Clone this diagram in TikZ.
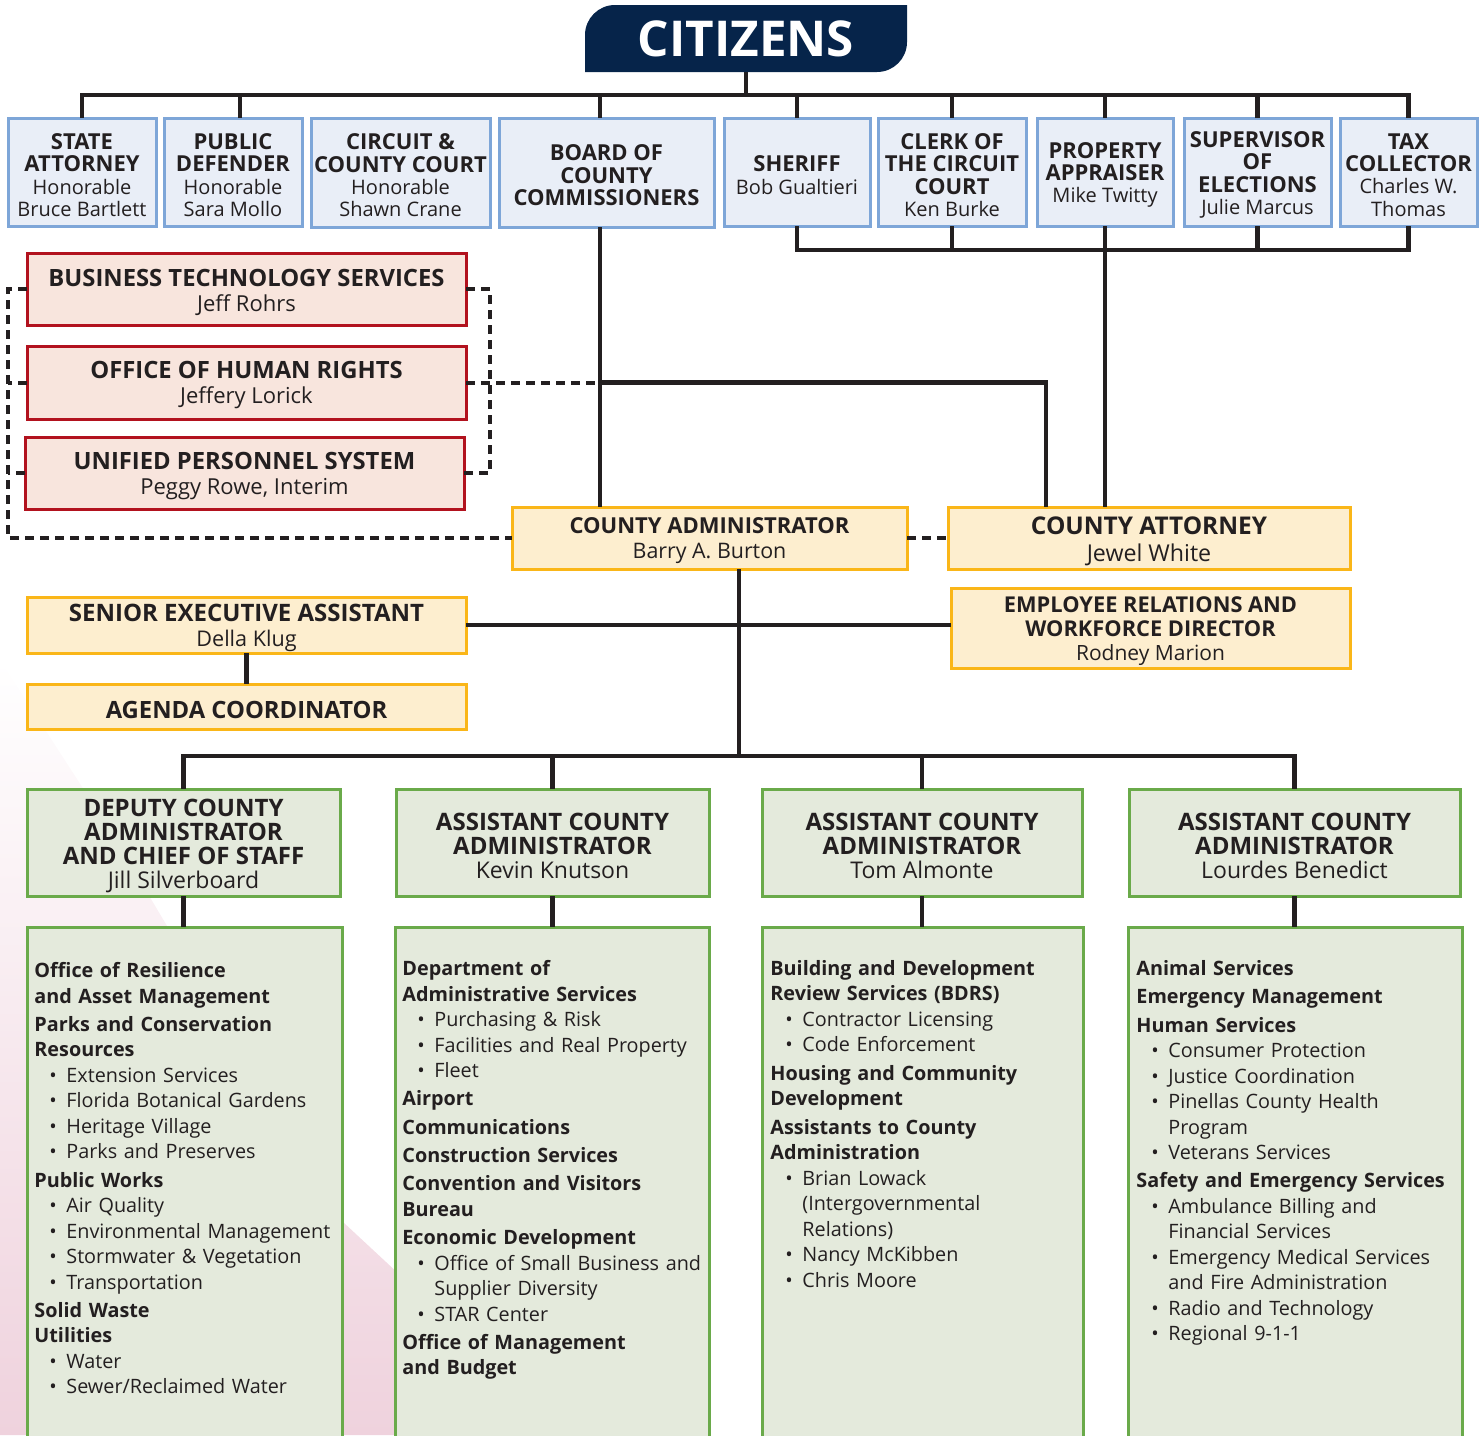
\documentclass[tikz,border=0pt]{standalone}
\usepackage{fontspec}
\setmainfont{Open Sans}
\definecolor{navy}{RGB}{6,36,74}
\definecolor{txt}{RGB}{35,31,32}
\definecolor{bfill}{RGB}{233,238,247}
\definecolor{bdraw}{RGB}{126,166,216}
\definecolor{rfill}{RGB}{248,229,221}
\definecolor{rdraw}{RGB}{178,18,30}
\definecolor{yfill}{RGB}{253,238,207}
\definecolor{ydraw}{RGB}{250,182,24}
\definecolor{gfill}{RGB}{228,234,220}
\definecolor{gdraw}{RGB}{106,170,74}
\definecolor{pinkbg}{RGB}{239,210,221}
\newcommand\mybox[7]{%
  \pgfmathsetmacro\bxw{(#5-#3)*0.5}%
  \pgfmathsetmacro\bxh{(#6-#4)*0.5}%
  \node[#2,minimum width=\bxw pt,minimum height=\bxh pt] (#1) at ({(#3+#5)/2},{(#4+#6)/2}) {};
  \node[#2,draw=none,fill=none,yshift=-1.5pt] (#1-t) at (#1.center) {#7};}
\newcommand\nm[2]{{\mdseries\fontsize{#1}{#1}\selectfont #2}}
\newcommand\hdf[1]{\noindent\textbf{#1}}
\newcommand\hdg[1]{\par\vspace{1.4pt}\noindent\textbf{#1}}
\newcommand\hdn[1]{\par\noindent\textbf{#1}}
\newcommand\bul[1]{\par\hangindent=16pt\hangafter=1\noindent\hspace*{7.5pt}\makebox[8.5pt][l]{\textbullet}#1}
\tikzset{
  box/.style={draw,line width=1.5pt,inner sep=0pt,outer sep=0pt,align=center,text=txt},
  blu/.style={box,fill=bfill,draw=bdraw,font=\fontsize{11}{11.2}\selectfont\bfseries},
  red/.style={box,fill=rfill,draw=rdraw,font=\fontsize{11.9}{12.5}\selectfont\bfseries},
  yel/.style={box,fill=yfill,draw=ydraw},
  grn/.style={box,fill=gfill,draw=gdraw,font=\fontsize{12}{12}\selectfont\bfseries},
  lst/.style={inner sep=0pt,anchor=north west,text width=175pt,text=txt,font=\fontsize{9.9}{12.75}\selectfont},
  conn/.style={draw=txt,line width=2.35pt},
  dsh/.style={draw=txt,line width=2pt,dash pattern=on 4.5pt off 3pt}
}
\begin{document}
\begin{tikzpicture}[x=0.5pt,y=-0.5pt]
\useasboundingbox (0,0) rectangle (1481,1435);
% pink background wedge
\shade[top color=white, bottom color=pinkbg] (0,660) -- (110,830) -- (343,1222) -- (400,1275) -- (400,1435) -- (0,1435) -- cycle;
% citizens
\fill[navy] (585,72) -- (585,35) arc[start angle=180,end angle=270,radius=30] -- (907,5) -- (907,42) arc[start angle=0,end angle=90,radius=30] -- cycle;
\node[inner sep=0pt,minimum width=161pt,minimum height=33.5pt,text=white,font=\fontsize{24.7}{25}\selectfont\bfseries] (cit) at (746,38.5) {CITIZENS};
% top row
\mybox{sa}{blu}{8}{118}{156}{226}{STATE\\ATTORNEY\\\nm{10}{Honorable}\\\nm{10}{Bruce Bartlett}}
\mybox{pd}{blu}{164}{118}{302}{226}{PUBLIC\\DEFENDER\\\nm{10}{Honorable}\\\nm{10}{Sara Mollo}}
\mybox{cc}{blu}{311}{118}{490}{227}{CIRCUIT \&\\COUNTY COURT\\\nm{10}{Honorable}\\\nm{10}{Shawn Crane}}
\mybox{bd}{blu}{499}{118}{714}{227}{BOARD OF\\COUNTY\\COMMISSIONERS}
\mybox{sh}{blu}{724}{118}{870}{226}{SHERIFF\\\nm{10}{Bob Gualtieri}}
\mybox{ck}{blu}{878}{118}{1026}{226}{CLERK OF\\THE CIRCUIT\\COURT\\\nm{10}{Ken Burke}}
\mybox{pa}{blu}{1037}{118}{1173}{226}{PROPERTY\\APPRAISER\\\nm{10}{Mike Twitty}}
\mybox{se}{blu}{1184}{118}{1331}{226}{SUPERVISOR\\OF\\ELECTIONS\\\nm{10}{Julie Marcus}}
\mybox{tx}{blu}{1340}{118}{1477}{226}{TAX\\COLLECTOR\\\nm{10}{Charles W.}\\\nm{10}{Thomas}}
% red boxes
\mybox{bts}{red}{27}{253}{466}{325}{BUSINESS TECHNOLOGY SERVICES\\\nm{11}{Jeff Rohrs}}
\mybox{ohr}{red}{27}{346}{466}{419}{OFFICE OF HUMAN RIGHTS\\\nm{11}{Jeffery Lorick}}
\mybox{uss}{red}{25}{437}{464}{509}{UNIFIED PERSONNEL SYSTEM\\\nm{11}{Peggy Rowe, Interim}}
% yellow boxes
\mybox{cadm}{yel,font=\fontsize{11}{12.5}\selectfont\bfseries}{512}{507}{907}{569}{COUNTY ADMINISTRATOR\\\nm{10.7}{Barry A. Burton}}
\mybox{catt}{yel,font=\fontsize{12.2}{13.5}\selectfont\bfseries}{948}{507}{1350}{569}{COUNTY ATTORNEY\\\nm{11.6}{Jewel White}}
\mybox{sea}{yel,font=\fontsize{12}{12.5}\selectfont\bfseries}{27}{597}{466}{653}{SENIOR EXECUTIVE ASSISTANT\\\nm{10.8}{Della Klug}}
\mybox{agc}{yel,font=\fontsize{11.9}{12.5}\selectfont\bfseries}{27}{684}{466}{729}{AGENDA COORDINATOR}
\mybox{er}{yel,font=\fontsize{10.9}{12}\selectfont\bfseries}{951}{588}{1350}{668}{EMPLOYEE RELATIONS AND\\WORKFORCE DIRECTOR\\\nm{10.5}{Rodney Marion}}
% green heads
\mybox{h1}{grn}{27}{789}{340}{896}{DEPUTY COUNTY\\ADMINISTRATOR\\AND CHIEF OF STAFF\\\nm{11.5}{Jill Silverboard}}
\mybox{h2}{grn}{396}{789}{709}{896}{ASSISTANT COUNTY\\ADMINISTRATOR\\\nm{11.5}{Kevin Knutson}}
\mybox{h3}{grn}{762}{789}{1082}{896}{ASSISTANT COUNTY\\ADMINISTRATOR\\\nm{11.5}{Tom Almonte}}
\mybox{h4}{grn}{1129}{789}{1460}{896}{ASSISTANT COUNTY\\ADMINISTRATOR\\\nm{11.5}{Lourdes Benedict}}
% list boxes
\mybox{l1}{grn}{27}{927}{342}{1440}{}
\mybox{l2}{grn}{395}{927}{709}{1440}{}
\mybox{l3}{grn}{762}{927}{1083}{1440}{}
\mybox{l4}{grn}{1128}{927}{1462}{1440}{}
\node[lst] (t1) at (34,962) {\raggedright
\hdf{Office of Resilience\newline and Asset Management}
\hdg{Parks and Conservation\newline Resources}
\bul{Extension Services}
\bul{Florida Botanical Gardens}
\bul{Heritage Village}
\bul{Parks and Preserves}
\hdg{Public Works}
\bul{Air Quality}
\bul{Environmental Management}
\bul{Stormwater \& Vegetation}
\bul{Transportation}
\hdg{Solid Waste}
\hdn{Utilities}
\bul{Water}
\bul{Sewer/Reclaimed Water}\par};
\node[lst] (t2) at (402,960) {\raggedright
\hdf{Department of\newline Administrative Services}
\bul{Purchasing \& Risk}
\bul{Facilities and Real Property}
\bul{Fleet}
\hdg{Airport}
\hdg{Communications}
\hdg{Construction Services}
\hdg{Convention and Visitors\newline Bureau}
\hdg{Economic Development}
\bul{Office of Small Business and\newline Supplier Diversity}
\bul{STAR Center}
\hdg{Office of Management\newline and Budget}\par};
\node[lst] (t3) at (770,960) {\raggedright
\hdf{Building and Development\newline Review Services (BDRS)}
\bul{Contractor Licensing}
\bul{Code Enforcement}
\hdg{Housing and Community\newline Development}
\hdg{Assistants to County\newline Administration}
\bul{Brian Lowack\newline (Intergovernmental\newline Relations)}
\bul{Nancy McKibben}
\bul{Chris Moore}\par};
\node[lst] (t4) at (1136,960) {\raggedright
\hdf{Animal Services}
\hdg{Emergency Management}
\hdg{Human Services}
\bul{Consumer Protection}
\bul{Justice Coordination}
\bul{Pinellas County Health\newline Program}
\bul{Veterans Services}
\hdg{Safety and Emergency Services}
\bul{Ambulance Billing and\newline Financial Services}
\bul{Emergency Medical Services\newline and Fire Administration}
\bul{Radio and Technology}
\bul{Regional 9-1-1}\par};
% ---- connectors ----
\coordinate (tb) at (0,95);
\coordinate (lb) at (0,250);
\coordinate (bb) at (0,756);
\coordinate (pdx) at ([xshift=3.5pt]pd.north);
\coordinate (bdx) at ([xshift=-3.25pt]bd.south);
\coordinate (bdt) at ([xshift=-3.25pt]bd.north);
\draw[conn] (cit.south) -- (cit.south |- tb);
\draw[conn] (sa.north) -- (sa.north |- tb) -- (tx.north |- tb) -- (tx.north);
\foreach \n in {sh,ck,pa,se} \draw[conn] (\n.north) -- (\n.north |- tb);
\draw[conn] (pdx) -- (pdx |- tb);
\draw[conn] (bdt) -- (bdt |- tb);
\draw[conn] (sh.south) -- (sh.south |- lb) -- (tx.south |- lb) -- (tx.south);
\foreach \n in {ck,se} \draw[conn] (\n.south) -- (\n.south |- lb);
\draw[conn] (pa.south) -- (pa.south |- catt.north);
\draw[conn] (bdx) -- (bdx |- cadm.north);
\coordinate (ca1) at ([xshift=-51.5pt]catt.north);
\draw[dsh] (ohr.east) -- (bdx |- ohr.east);
\draw[conn] (bdx |- ohr.east) -- (ca1 |- ohr.east) -- (ca1);
\coordinate (rb) at (490,0);
\coordinate (lx) at (8,0);
\draw[dsh] (bts.east) -- (bts.east -| rb) -- (uss.east -| rb) -- (uss.east);
\draw[dsh] (bts.west) -- (bts.west -| lx) -- (lx |- cadm.west) -- (cadm.west);
\draw[dsh] (ohr.west) -- (ohr.west -| lx);
\draw[dsh] (uss.west) -- (uss.west -| lx);
\draw[dsh] (cadm.east) -- (catt.west |- cadm.east);
\coordinate (cdx) at ([xshift=14.75pt]cadm.south);
\draw[conn] (cdx) -- (cdx |- bb);
\draw[conn] (sea.east) -- (sea.east -| er.west);
\draw[conn] (sea.south) -- (agc.north);
\draw[conn] (h1.north) -- (h1.north |- bb) -- (h4.north |- bb) -- (h4.north);
\foreach \n in {h2,h3} \draw[conn] (\n.north) -- (\n.north |- bb);
\draw[conn] (h1.south) -- (h1.south |- l1.north);
\draw[conn] (h2.south) -- (h2.south |- l2.north);
\draw[conn] (h3.south) -- (h3.south |- l3.north);
\draw[conn] (h4.south) -- (h4.south |- l4.north);
\end{tikzpicture}
\end{document}
